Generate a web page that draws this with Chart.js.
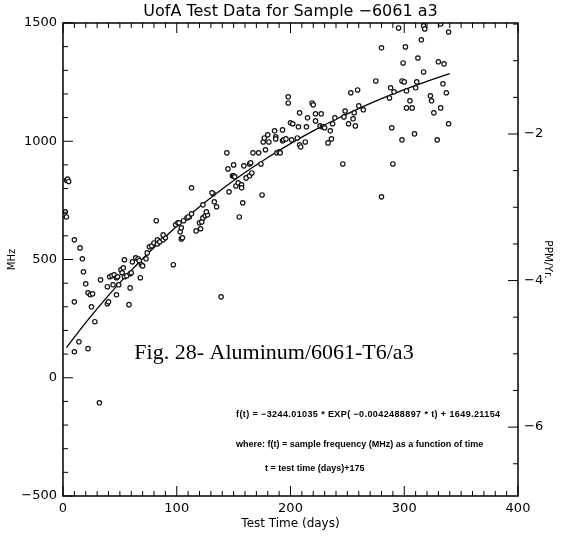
<!DOCTYPE html>
<html>
<head>
<meta charset="utf-8">
<script src="https://cdn.jsdelivr.net/npm/chart.js@4.4.1/dist/chart.umd.min.js"></script>
<style>
  html, body { margin:0; padding:0; background:#fff; }
  #wrap { position:relative; width:568px; height:539px; }
</style>
</head>
<body>
<div id="wrap"><canvas id="chart"></canvas></div>
<script>
// ============================================================
//  DATA
// ============================================================
var scatterDays = [
  1,2,3,3,4,5,
  10,15,17,18,20,22,24,26,25,28,10,10,14,22,33,39,39,40,44,41,43,45,47,48,47,49,
  51,53,52,54,54,56,59,60,58,59,61,64,66,67,68,69,70,73,74,76,78,80,83,83,82,85,
  88,90,88,97,99,101,102,103,104,106,109,111,32,
  105,104,110,113,117,121,120,122,123,125,127,126,123,113,132,131,133,135,139,146,
  145,144,150,149,150,151,152,154,157,157,155,158,159,161,164,165,164,166,167,172,
  174,175,176,178,177,180,181,186,187,187,188,190,191,193,194,196,193,198,198,200,
  202,201,206,207,208,208,209,213,214,215,
  219,220,222,222,227,226,228,229,230,235,237,239,233,236,246,248,247,251,253,256,
  255,257,259,260,264,275,280,280,287,288,289,290,291,295,298,299,298,300,301,302,
  305,302,307,309,310,311,312,317,318,332,339,315,330,335,317,334,337,323,324,332,
  326,339,329
];
var scatterMHz = [
  690,702,680,835,840,830,
  583,549,503,448,397,359,351,355,300,237,321,110,152,123,414,385,313,321,393,427,431,435,423,427,351,393,
  456,465,444,499,427,431,440,444,309,380,490,507,503,495,423,478,473,503,528,554,558,570,566,583,664,575,
  583,592,604,478,647,655,655,617,587,664,676,680,-106,
  592,634,680,693,621,630,655,659,676,685,689,702,731,803,778,782,744,723,342,786,
  883,951,900,854,854,850,811,824,816,803,680,740,896,845,904,909,854,866,951,951,
  904,773,997,964,1014,1027,997,1044,1019,1010,951,955,951,1002,1006,1010,1048,1188,1162,1078,
  1074,1006,1014,1061,1120,985,976,997,1061,1099,
  1162,1154,1116,1086,1116,1065,1061,1061,1057,1044,1074,1099,993,1010,904,1128,1103,1074,1205,1120,
  1095,1065,1217,1150,1133,1255,1395,765,1183,1226,1057,904,1209,1479,1006,1331,1255,1251,1399,1213,
  1171,1141,1141,1031,1226,1251,1352,1488,1475,1496,1462,1429,1336,1327,1293,1243,1205,1192,1171,1141,
  1120,1074,1006
];
// fitted curve, read along its length
var fitDays = [3,20,40,60,80,100,120,140,160,180,200,220,240,260,280,300,320,340];
var fitMHz  = [127,233,348,454,551,641,723,798,868,931,990,1044,1093,1138,1180,1218,1253,1286];

var dayTicks = [0,100,200,300,400];
var mhzTicks = [-500,0,500,1000,1500];
var ppmTicks = [-2,-4,-6];

var titleText = 'UofA Test Data for Sample \u22126061 a3';
var figText = 'Fig. 28- Aluminum/6061-T6/a3';
var noteLines = [
  'f(t) = \u22123244.01035 * EXP( \u22120.0042488897 * t) + 1649.21154',
  'where: f(t) = sample frequency (MHz) as a function of time',
  't = test time (days)+175'
];

var SANS = '"DejaVu Sans", sans-serif';

function minus(v) { return v < 0 ? '\u2212' + Math.abs(v) : '' + v; }

// ============================================================
//  PLUGIN: frame, inward ticks, annotation text
// ============================================================
var frameTicks = {
  id: 'frameTicks',
  afterDraw: function(chart) {
    var ctx = chart.ctx, a = chart.chartArea, s = chart.scales;
    ctx.save();
    ctx.strokeStyle = '#000';
    ctx.lineWidth = 1.5;
    ctx.strokeRect(a.left, a.top, a.right - a.left, a.bottom - a.top);

    ctx.lineWidth = 1;
    ctx.beginPath();
    var i, p, len;
    for (i = 0; i <= 40; i++) {
      p = s.x.getPixelForValue(i * 10);
      len = i % 10 === 0 ? 10 : 5;
      ctx.moveTo(p, a.bottom); ctx.lineTo(p, a.bottom - len);
      ctx.moveTo(p, a.top); ctx.lineTo(p, a.top + len);
    }
    for (i = -5; i <= 15; i++) {
      p = s.y.getPixelForValue(i * 100);
      len = i % 5 === 0 ? 10 : 5;
      ctx.moveTo(a.left, p); ctx.lineTo(a.left + len, p);
    }
    for (i = 1; i <= 13; i++) {
      var v = -i * 0.5;
      p = s.y2.getPixelForValue(v);
      len = ppmTicks.indexOf(v) >= 0 ? 10 : 5;
      ctx.moveTo(a.right, p); ctx.lineTo(a.right - len, p);
    }
    ctx.stroke();

    ctx.fillStyle = '#000';
    ctx.textAlign = 'center';
    ctx.textBaseline = 'middle';
    ctx.font = '16px ' + SANS;
    ctx.fillText(titleText, (a.left + a.right) / 2, 12);

    ctx.font = '22px "Liberation Serif", "Times New Roman", serif';
    ctx.fillText(figText, 274, 353);

    ctx.font = 'bold 9px "Liberation Sans", Arial, sans-serif';
    ctx.textAlign = 'left';
    ctx.letterSpacing = '0.4px';
    ctx.fillText(noteLines[0], 236, 415);
    ctx.letterSpacing = '0px';
    ctx.fillText(noteLines[1], 236, 445);
    ctx.fillText(noteLines[2], 265, 469);
    ctx.restore();
  }
};

var scatterPts = scatterDays.map(function(d, i) { return { x: d, y: scatterMHz[i] }; });
var fitPts = fitDays.map(function(d, i) { return { x: d, y: fitMHz[i] }; });

var tickFont = { family: SANS, size: 13 };

new Chart(document.getElementById('chart'), {
  type: 'scatter',
  data: {
    datasets: [
      { label: 'data', data: scatterPts, pointStyle: 'circle', pointRadius: 2.2,
        borderColor: '#111', borderWidth: 1.2, backgroundColor: '#fff', yAxisID: 'y' },
      { label: 'fit', type: 'line', data: fitPts, showLine: true, pointRadius: 0,
        borderColor: '#000', borderWidth: 1.3, tension: 0.4, fill: false, yAxisID: 'y' }
    ]
  },
  options: {
    responsive: true,
    maintainAspectRatio: false,
    animation: false,
    layout: { padding: { top: 23, left: 0, right: 0, bottom: 0 } },
    plugins: { legend: { display: false }, tooltip: { enabled: false }, title: { display: false } },
    scales: {
      x: {
        type: 'linear', position: 'bottom', min: 0, max: 400,
        afterBuildTicks: function(sc) { sc.ticks = dayTicks.map(function(v) { return { value: v }; }); },
        afterFit: function(sc) { sc.height = 43; },
        grid: { display: false, drawTicks: false },
        border: { display: false },
        ticks: { color: '#000', font: tickFont, padding: 5, maxRotation: 0 },
        title: { display: true, text: 'Test Time (days)', color: '#000',
                 font: { family: SANS, size: 12 }, padding: { top: 0, bottom: 8 } }
      },
      y: {
        type: 'linear', position: 'left', min: -500, max: 1500,
        afterBuildTicks: function(sc) { sc.ticks = mhzTicks.map(function(v) { return { value: v }; }); },
        afterFit: function(sc) { sc.width = 63; },
        grid: { display: false, drawTicks: false },
        border: { display: false },
        ticks: { color: '#000', font: tickFont, padding: 6, callback: function(v) { return minus(v); } },
        title: { display: true, text: 'MHz', color: '#000',
                 font: { family: SANS, size: 10 }, padding: { top: 6, bottom: 0 } }
      },
      y2: {
        type: 'linear', position: 'right', min: -6.94, max: -0.485,
        afterBuildTicks: function(sc) { sc.ticks = ppmTicks.map(function(v) { return { value: v }; }); },
        afterFit: function(sc) { sc.width = 50; },
        grid: { display: false, drawTicks: false },
        border: { display: false },
        ticks: { color: '#000', font: tickFont, padding: 6, callback: function(v) { return minus(v); } },
        title: { display: true, text: 'PPM/Yr.', color: '#000',
                 font: { family: SANS, size: 10.5 }, padding: { top: 14, bottom: 0 } }
      }
    }
  },
  plugins: [frameTicks]
});
</script>
</body>
</html>
